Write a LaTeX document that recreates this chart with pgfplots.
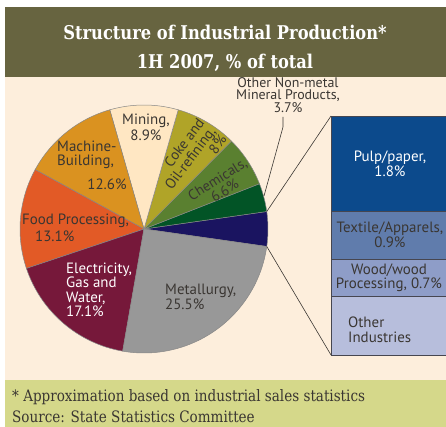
\documentclass[border=0pt]{standalone}
\usepackage{pgfplots}
\pgfplotsset{compat=1.18}
\usepackage{fontspec}
\setmainfont{PT Sans}
\newfontfamily\lab{PT Sans}
\newfontfamily\slab[FakeStretch=0.86]{DejaVu Serif}
\definecolor{titlebg}{RGB}{103,100,64}
\definecolor{cream}{RGB}{253,238,220}
\definecolor{footbg}{RGB}{213,216,138}
\definecolor{txt}{RGB}{58,54,50}
\definecolor{cMetal}{RGB}{152,152,152}
\definecolor{cElec}{RGB}{118,24,58}
\definecolor{cFood}{RGB}{226,90,38}
\definecolor{cMach}{RGB}{218,146,32}
\definecolor{cMin}{RGB}{255,231,195}
\definecolor{cCoke}{RGB}{176,164,40}
\definecolor{cChem}{RGB}{90,128,48}
\definecolor{cNonM}{RGB}{2,84,38}
\definecolor{cOth}{RGB}{26,20,96}
\definecolor{cPulp}{RGB}{12,74,140}
\definecolor{cText}{RGB}{96,124,172}
\definecolor{cWood}{RGB}{142,157,200}
\definecolor{cOInd}{RGB}{183,190,220}
\definecolor{edge}{RGB}{135,135,135}
\begin{document}
\begin{tikzpicture}
\begin{axis}[name=ax, width=446bp, height=427bp, scale only axis, hide axis,
  xmin=0, xmax=446, ymin=0, ymax=427, y dir=reverse, clip=false]
\fill[white] (axis cs:0,0) rectangle (axis cs:446,427);
\fill[titlebg] (axis cs:5,7) rectangle (axis cs:446,77);
\fill[cream] (axis cs:5,77) rectangle (axis cs:446,380);
\fill[footbg] (axis cs:5,380) rectangle (axis cs:446,427);
% title
\node[white, font=\slab\bfseries\fontsize{19}{22}\selectfont] at (axis cs:225,32) {Structure of Industrial Production*};
\node[white, font=\slab\bfseries\fontsize{19}{22}\selectfont] at (axis cs:225,63) {1H 2007, \% of total};
% pie: shares in % (Other industries first, centred on the right)
\xdef\angA{-8.1}
\foreach \v/\c in {4.5/cOth, 3.7/cNonM, 6.6/cChem, 8.0/cCoke, 8.9/cMin, 12.6/cMach, 13.1/cFood, 17.1/cElec, 25.5/cMetal}{
  \pgfmathsetmacro\angB{\angA+3.6*\v}
  \edef\temp{\noexpand\fill[\c, draw=edge, line width=0.5pt] (axis cs:144,229) -- ++(\angA:124bp) arc[start angle=\angA, end angle=\angB, radius=124bp] -- cycle;}
  \temp
  \xdef\angA{\angB}
}
% bar of "other industries" (4.5 % in total)
\xdef\yA{116}
\foreach \v/\c in {1.8/cPulp, 0.9/cText, 0.7/cWood, 1.1/cOInd}{
  \pgfmathsetmacro\yB{\yA+239/4.5*\v}
  \edef\temp{\noexpand\fill[\c, draw={rgb,255:red,70;green,70;blue,80}, line width=0.6pt] (axis cs:331,\yA) rectangle (axis cs:449,\yB);}
  \temp
  \xdef\yA{\yB}
}
% connectors
\draw[txt, line width=0.6pt] (axis cs:144,229) ++(8.1:124bp) -- (axis cs:331,116);
\draw[txt, line width=0.6pt] (axis cs:144,229) ++(-8.1:124bp) -- (axis cs:331,355);
\draw[txt, line width=0.6pt] (axis cs:283,117) -- (axis cs:283,127) -- (axis cs:264,196);
% labels
\tikzset{lb/.style={txt, font=\lab\fontsize{15}{14.5}\selectfont, inner sep=0pt}}
\node[lb, align=center, font=\lab\fontsize{15}{16}\selectfont] at (axis cs:146,127) {Mining,\\8.9\%};
\node[lb, align=left, anchor=west] at (axis cs:57,155) {Machine-\\Building,};
\node[lb] at (axis cs:107,184) {12.6\%};
\node[lb, anchor=west] at (axis cs:22,221) {Food Processing,};
\node[lb, anchor=west] at (axis cs:35,236) {13.1\%};
\node[lb, white, align=left, anchor=west] at (axis cs:66,290) {Electricity,\\Gas and\\Water,\\17.1\%};
\node[lb, align=left, anchor=west] at (axis cs:165,297) {Metallurgy,\\25.5\%};
\node[lb, align=right, rotate=53, font=\lab\fontsize{14.5}{14}\selectfont] at (axis cs:190,158) {Coke and\\Oil-refining,\\8\%};
\node[lb, align=center, rotate=32, font=\lab\fontsize{14.5}{13.5}\selectfont] at (axis cs:221,185) {Chemicals,\\6.6\%};
\node[lb, align=center, font=\lab\fontsize{14}{12}\selectfont] at (axis cs:288,95) {Other Non-metal\\Mineral Products,\\3.7\%};
\node[lb, white, align=center, font=\lab\fontsize{15}{12.5}\selectfont] at (axis cs:390,164) {Pulp/paper,\\1.8\%};
\node[lb, align=center, font=\lab\fontsize{15}{13.5}\selectfont] at (axis cs:390,235) {Textile/Apparels,\\0.9\%};
\node[lb, align=center, font=\lab\fontsize{15}{12.5}\selectfont] at (axis cs:389,278) {Wood/wood\\Processing, 0.7\%};
\node[lb, align=left, anchor=west, font=\lab\fontsize{15}{15}\selectfont] at (axis cs:348,330) {Other\\Industries};
% footer
\node[txt, anchor=west, inner sep=0pt, font=\slab\fontsize{15.8}{17}\selectfont] at (axis cs:12,397) {* Approximation based on industrial sales statistics};
\node[txt, anchor=west, inner sep=0pt, font=\slab\fontsize{15.8}{17}\selectfont] at (axis cs:12,417) {Source: State Statistics Committee};
\end{axis}
\pgfresetboundingbox
\path (ax.south west) rectangle (ax.north east);
\end{tikzpicture}
\end{document}
